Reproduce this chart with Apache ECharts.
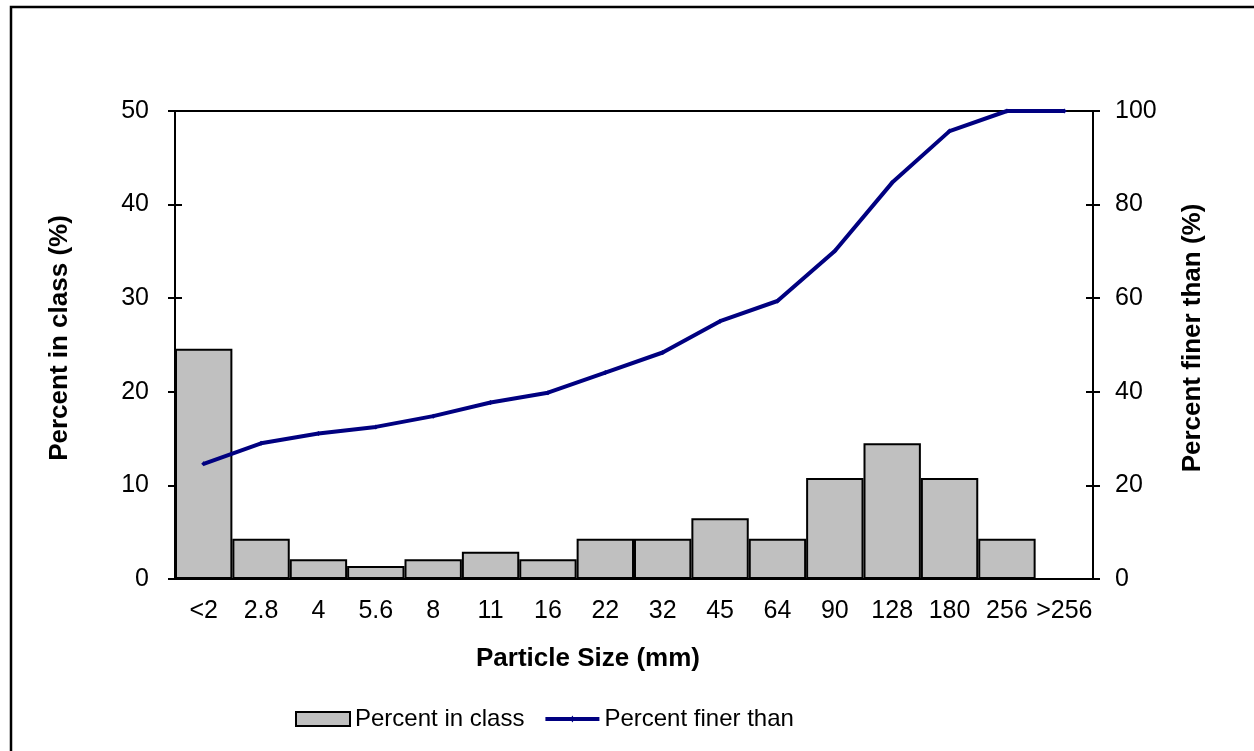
<!DOCTYPE html>
<html>
<head>
<meta charset="utf-8">
<script src="https://cdn.jsdelivr.net/npm/echarts@6/dist/echarts.min.js"></script>
<style>
  html, body { margin: 0; padding: 0; background: #fff; }
  #main { width: 1254px; height: 751px; }
</style>
</head>
<body>
<div id="main"></div>
<script>
// particle size classes
var sizeClasses = ["<2", "2.8", "4", "5.6", "8", "11", "16", "22", "32", "45", "64", "90", "128", "180", "256", ">256"];
var percentInClass = [24.6, 4.3, 2.1, 1.4, 2.1, 2.9, 2.1, 4.3, 4.3, 6.5, 4.3, 10.8, 14.5, 10.8, 4.3, 0];
var percentFiner = [24.6, 29.0, 31.1, 32.5, 34.8, 37.7, 39.8, 44.1, 48.4, 55.1, 59.4, 70.1, 84.7, 95.7, 100, 100];
var leftTicks = [0, 10, 20, 30, 40, 50];
var rightTicks = [0, 20, 40, 60, 80, 100];

var font = "'Liberation Sans', Arial, sans-serif";
var tickLine = { color: "#000", width: 2 };
var chart = echarts.init(document.getElementById("main"));

// titles sit a bit off-centre in the original, padding nudges them
function titleStyle(pad) {
  return { fontFamily: font, fontSize: 26, fontWeight: "bold", color: "#000", padding: pad };
}

// extra axis that only draws the inner half of the cross ticks
function innerTicks(pos, ticks) {
  return {
    type: "value",
    position: pos,
    min: ticks[0],
    max: ticks[ticks.length - 1],
    interval: ticks[1] - ticks[0],
    splitLine: { show: false },
    axisLine: { show: false },
    axisLabel: { show: false },
    axisTick: { show: true, inside: true, length: 7, lineStyle: tickLine }
  };
}

chart.setOption({
  animation: false,
  backgroundColor: "#fff",
  textStyle: { fontFamily: font },
  graphic: [
    {
      type: "rect",
      shape: { x: 11, y: 7, width: 1260, height: 760 },
      style: { fill: "none", stroke: "#000", lineWidth: 2.5 },
      silent: true
    }
  ],
  grid: {
    left: 175,
    right: 161,
    top: 111,
    bottom: 172,
    show: true,
    borderColor: "#000",
    borderWidth: 2
  },
  legend: {
    top: 702,
    left: 290,
    itemWidth: 54,
    itemHeight: 14,
    itemGap: 21,
    textStyle: { fontFamily: font, fontSize: 24, color: "#000" },
    data: [
      { name: "Percent in class", icon: "rect" },
      {
        name: "Percent finer than",
        icon: "path://M0,0 L0.01,0 M0,5 L54,5 L54,9 L0,9 Z M25,7 L27,3.5 L29,7 L27,10.5 Z M0,14 L0.01,14"
      }
    ]
  },
  xAxis: {
    type: "category",
    data: sizeClasses,
    name: "Particle Size (mm)",
    nameLocation: "middle",
    nameGap: 67,
    nameTextStyle: titleStyle([0, 92, 0, 0]),
    axisLine: { lineStyle: { color: "#000", width: 2 } },
    axisTick: { length: 7, lineStyle: tickLine },
    axisLabel: { fontFamily: font, fontSize: 25, color: "#000", margin: 20, interval: 0 }
  },
  yAxis: [
    {
      type: "value",
      min: leftTicks[0],
      max: leftTicks[leftTicks.length - 1],
      interval: 10,
      name: "Percent in class (%)",
      nameLocation: "middle",
      nameGap: 102,
      nameTextStyle: titleStyle([0, 0, 0, 14]),
      splitLine: { show: false },
      axisLine: { show: true, lineStyle: { color: "#000", width: 2 } },
      axisTick: { show: true, length: 7, lineStyle: tickLine },
      axisLabel: { fontFamily: font, fontSize: 25, color: "#000", margin: 26 }
    },
    {
      type: "value",
      min: rightTicks[0],
      max: rightTicks[rightTicks.length - 1],
      interval: 20,
      name: "Percent finer than (%)",
      nameLocation: "middle",
      nameGap: 87,
      nameRotate: 90,
      nameTextStyle: titleStyle([0, 0, 0, 14]),
      splitLine: { show: false },
      axisLine: { show: true, lineStyle: { color: "#000", width: 2 } },
      axisTick: { show: true, length: 7, lineStyle: tickLine },
      axisLabel: { fontFamily: font, fontSize: 25, color: "#000", margin: 22 }
    },
    innerTicks("left", leftTicks),
    innerTicks("right", rightTicks)
  ],
  series: [
    {
      name: "Percent in class",
      type: "bar",
      yAxisIndex: 0,
      barCategoryGap: 0,
      itemStyle: { color: "#c0c0c0", borderColor: "#000", borderWidth: 2 },
      data: percentInClass
    },
    {
      name: "Percent finer than",
      type: "line",
      yAxisIndex: 1,
      symbol: "diamond",
      symbolSize: 5,
      itemStyle: { color: "#000080" },
      lineStyle: { color: "#000080", width: 4 },
      data: percentFiner
    }
  ]
});
</script>
</body>
</html>
